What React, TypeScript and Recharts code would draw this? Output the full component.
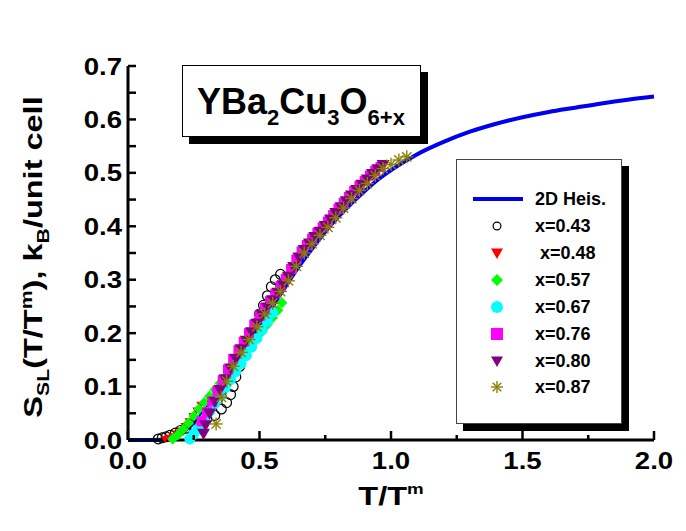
import React from "react";
import { ComposedChart, Line, Scatter, XAxis, YAxis, Legend } from "recharts";

const FONT = '"Liberation Sans", Arial, Helvetica, sans-serif';

// tick positions (labels only on the majors)
const xTicks = [0, 0.25, 0.5, 0.75, 1.0, 1.25, 1.5, 1.75, 2.0];
const yTicks = [0, 0.05, 0.1, 0.15, 0.2, 0.25, 0.3, 0.35, 0.4, 0.45, 0.5, 0.55, 0.6, 0.65, 0.7];

// 2D Heisenberg curve
const heisT = [0, 0.05, 0.1, 0.15, 0.2, 0.25, 0.3, 0.35, 0.4, 0.45, 0.5, 0.55, 0.6, 0.65, 0.7, 0.75, 0.8, 0.85, 0.9, 0.95, 1.0, 1.1, 1.2, 1.3, 1.4, 1.5, 1.6, 1.7, 1.8, 1.9, 2.0];
const heisS = [0, 0, 0, 0.002, 0.012, 0.032, 0.06, 0.093, 0.13, 0.17, 0.21, 0.25, 0.288, 0.325, 0.358, 0.39, 0.418, 0.443, 0.466, 0.487, 0.505, 0.535, 0.558, 0.577, 0.592, 0.604, 0.614, 0.622, 0.63, 0.637, 0.643];

// measured data, [T/Tm, S]
const x043 = [
  [0.115, 0.002], [0.13, 0.004], [0.145, 0.006], [0.16, 0.009], [0.18, 0.013], [0.2, 0.018],
  [0.22, 0.022], [0.245, 0.028], [0.27, 0.034], [0.3, 0.04], [0.33, 0.046], [0.355, 0.058],
  [0.375, 0.07], [0.39, 0.085], [0.4, 0.1], [0.41, 0.118], [0.425, 0.138], [0.44, 0.158],
  [0.455, 0.178], [0.47, 0.198], [0.485, 0.218], [0.5, 0.236], [0.515, 0.252], [0.53, 0.27],
  [0.545, 0.287], [0.56, 0.3], [0.58, 0.31],
];
const x048 = [
  [0.14, 0.002], [0.155, 0.004], [0.17, 0.007], [0.185, 0.012], [0.2, 0.018], [0.215, 0.026],
  [0.23, 0.035], [0.245, 0.045], [0.26, 0.055], [0.275, 0.066],
];
const x057 = [
  [0.17, 0.002], [0.19, 0.01], [0.21, 0.02], [0.23, 0.032], [0.25, 0.045], [0.27, 0.058],
  [0.29, 0.07], [0.31, 0.082], [0.33, 0.094], [0.35, 0.106], [0.37, 0.118], [0.39, 0.13],
  [0.41, 0.142], [0.43, 0.154], [0.45, 0.166], [0.47, 0.178], [0.49, 0.19], [0.51, 0.203],
  [0.53, 0.216], [0.55, 0.229], [0.57, 0.243], [0.585, 0.257],
];
const x067 = [
  [0.235, 0.002], [0.25, 0.011], [0.265, 0.02], [0.28, 0.03], [0.295, 0.041], [0.31, 0.053],
  [0.33, 0.068], [0.35, 0.083], [0.37, 0.098], [0.39, 0.113], [0.41, 0.128], [0.43, 0.143],
  [0.45, 0.158], [0.47, 0.174], [0.49, 0.19], [0.51, 0.206], [0.53, 0.222], [0.55, 0.238],
];
const x076 = [
  [0.28, 0.035], [0.3, 0.052], [0.32, 0.072], [0.34, 0.092], [0.36, 0.112], [0.38, 0.132],
  [0.4, 0.152], [0.42, 0.168], [0.44, 0.184], [0.46, 0.2], [0.48, 0.216], [0.5, 0.232],
  [0.52, 0.247], [0.54, 0.26], [0.56, 0.274], [0.58, 0.288], [0.6, 0.302], [0.62, 0.32],
  [0.64, 0.338], [0.66, 0.353], [0.68, 0.365], [0.7, 0.377], [0.72, 0.388], [0.74, 0.398],
  [0.76, 0.409], [0.78, 0.421], [0.8, 0.433], [0.82, 0.444], [0.84, 0.455], [0.86, 0.466],
  [0.88, 0.476], [0.9, 0.485], [0.92, 0.495], [0.94, 0.504], [0.96, 0.511],
];
const x080 = [
  [0.287, 0.012], [0.295, 0.028], [0.31, 0.05], [0.33, 0.072], [0.35, 0.094], [0.37, 0.114],
  [0.39, 0.134], [0.41, 0.152], [0.43, 0.17], [0.45, 0.186], [0.47, 0.202], [0.49, 0.218],
  [0.51, 0.234], [0.53, 0.248], [0.55, 0.262], [0.57, 0.276], [0.59, 0.29], [0.61, 0.306],
  [0.63, 0.324], [0.65, 0.342], [0.67, 0.356], [0.69, 0.368], [0.71, 0.38], [0.73, 0.39],
  [0.75, 0.401], [0.77, 0.413], [0.79, 0.425], [0.81, 0.436], [0.83, 0.447], [0.85, 0.458],
  [0.87, 0.468], [0.89, 0.478], [0.91, 0.488], [0.93, 0.498], [0.95, 0.507], [0.97, 0.515],
];
const x087 = [
  [0.335, 0.03], [0.355, 0.08], [0.375, 0.11], [0.4, 0.138], [0.43, 0.164], [0.46, 0.188],
  [0.49, 0.212], [0.52, 0.236], [0.55, 0.256], [0.58, 0.278], [0.61, 0.298], [0.64, 0.325],
  [0.67, 0.35], [0.7, 0.367], [0.73, 0.383], [0.76, 0.398], [0.79, 0.416], [0.82, 0.434],
  [0.85, 0.452], [0.88, 0.467], [0.91, 0.48], [0.94, 0.495], [0.97, 0.508], [1.0, 0.516],
  [1.03, 0.524], [1.06, 0.53],
];

const heis = heisT.map((t, i) => ({ t, s: heisS[i] }));
const pts = (arr: number[][]) => arr.map(([t, s]) => ({ t, s }));

const series = [
  { name: "x=0.43", data: x043, kind: "open", color: "#000000", size: 11 },
  { name: " x=0.48", data: x048, kind: "tri", color: "#ff0000", size: 8 },
  { name: "x=0.57", data: x057, kind: "diamond", color: "#00ff00", size: 11 },
  { name: "x=0.67", data: x067, kind: "circle", color: "#00ffff", size: 11 },
  { name: "x=0.76", data: x076, kind: "square", color: "#ff00ff", size: 10 },
  { name: "x=0.80", data: x080, kind: "tri", color: "#800080", size: 13 },
  { name: "x=0.87", data: x087, kind: "star", color: "#8b8000", size: 13 },
];

function Marker({ cx, cy, kind, color, size }: any) {
  const r = size / 2;
  if (kind === "open")
    return <circle cx={cx} cy={cy} r={r - 0.6} fill="none" stroke={color} strokeWidth={1.2} />;
  if (kind === "circle") return <circle cx={cx} cy={cy} r={r} fill={color} />;
  if (kind === "square") return <rect x={cx - r} y={cy - r} width={size} height={size} fill={color} />;
  if (kind === "diamond")
    return <polygon points={`${cx},${cy - r} ${cx + r},${cy} ${cx},${cy + r} ${cx - r},${cy}`} fill={color} />;
  if (kind === "tri")
    return (
      <polygon points={`${cx - r},${cy - r * 0.75} ${cx + r},${cy - r * 0.75} ${cx},${cy + r}`} fill={color} />
    );
  const d = r * 0.72;
  return (
    <g stroke={color} strokeWidth={1.4}>
      <line x1={cx} y1={cy - r} x2={cx} y2={cy + r} />
      <line x1={cx - r} y1={cy} x2={cx + r} y2={cy} />
      <line x1={cx - d} y1={cy - d} x2={cx + d} y2={cy + d} />
      <line x1={cx - d} y1={cy + d} x2={cx + d} y2={cy - d} />
    </g>
  );
}

// the labels in the source are a bit wider than Arial, so stretch them sideways
const XTick = ({ x, y, payload }: any) => {
  const v = payload.value;
  const major = Math.abs(v * 2 - Math.round(v * 2)) < 1e-6;
  return (
    <g>
      <line x1={x} x2={x} y1={y} y2={y - (major ? 9 : 5)} stroke="#000" strokeWidth={2.5} />
      {major && (
        <text
          transform={`translate(${x},${y + 29}) scale(1.15,1)`}
          textAnchor="middle"
          fontFamily={FONT}
          fontWeight="bold"
          fontSize={24}
          fill="#000"
        >
          {v.toFixed(1)}
        </text>
      )}
    </g>
  );
};

const YTick = ({ x, y, payload }: any) => {
  const v = payload.value;
  const major = Math.abs(v * 10 - Math.round(v * 10)) < 1e-6;
  return (
    <g>
      <line x1={x} x2={x + 8} y1={y} y2={y} stroke="#000" strokeWidth={2.5} />
      {major && (
        <text
          transform={`translate(${x - 6},${y + 8.5}) scale(1.15,1)`}
          textAnchor="end"
          fontFamily={FONT}
          fontWeight="bold"
          fontSize={24}
          fill="#000"
        >
          {v.toFixed(1)}
        </text>
      )}
    </g>
  );
};

const XTitle = ({ viewBox }: any) => {
  const cx = viewBox.x + viewBox.width / 2;
  return (
    <text
      transform={`translate(${cx},505) scale(1.25,1)`}
      textAnchor="middle"
      fontFamily={FONT}
      fontWeight="bold"
      fontSize={26}
      fill="#000"
    >
      T/T
      <tspan dy={-11} fontSize={15}>m</tspan>
    </text>
  );
};

const YTitle = ({ viewBox }: any) => {
  const cx = 42;
  const cy = viewBox.y + viewBox.height / 2 + 4;
  return (
    <text
      transform={`translate(${cx},${cy}) rotate(-90) scale(1.25,1)`}
      textAnchor="middle"
      fontFamily={FONT}
      fontWeight="bold"
      fontSize={26}
      fill="#000"
    >
      S<tspan dy={7} fontSize={17}>SL</tspan>
      <tspan dy={-7}>(T/T</tspan>
      <tspan dy={-10} fontSize={17}>m</tspan>
      <tspan dy={10}>), k</tspan>
      <tspan dy={7} fontSize={17}>B</tspan>
      <tspan dy={-7}>/unit cell</tspan>
    </text>
  );
};

const LegendBox = () => (
  <div
    style={{
      position: "relative",
      width: 166,
      height: 265,
      background: "#fff",
      border: "1px solid #444",
      boxSizing: "border-box",
      boxShadow: "7px 7px 0 #000",
      fontFamily: FONT,
      fontWeight: "bold",
      fontSize: 18,
    }}
  >
    <div style={{ position: "absolute", left: 0, top: 29, height: 20, width: 166 }}>
      <svg width={60} height={20} style={{ position: "absolute", left: 10, top: 0 }}>
        <line x1={6} x2={56} y1={10} y2={10} stroke="#0000ee" strokeWidth={4} />
      </svg>
      <span style={{ position: "absolute", left: 78, top: 0, lineHeight: "20px" }}>2D Heis.</span>
    </div>
    {series.map((s, i) => (
      <div key={s.name} style={{ position: "absolute", left: 0, top: 56 + i * 26.9, height: 20, width: 166 }}>
        <svg width={24} height={20} style={{ position: "absolute", left: 28, top: 0 }}>
          <Marker cx={12} cy={10} kind={s.kind} color={s.color} size={s.kind === "open" ? 9 : 12} />
        </svg>
        <span style={{ position: "absolute", left: 78, top: 0, lineHeight: "20px", whiteSpace: "pre" }}>{s.name}</span>
      </div>
    ))}
  </div>
);

const sub = { fontSize: 22, position: "relative" as const, top: 11 };

export default function App() {
  return (
    <div style={{ position: "absolute", left: 0, top: 0, width: 686, height: 531, background: "#fff" }}>
      <ComposedChart width={686} height={531} margin={{ top: 66, right: 32, left: 0, bottom: 0 }}>
        <XAxis
          dataKey="t"
          type="number"
          domain={[0, 2]}
          ticks={xTicks}
          tick={<XTick />}
          tickSize={0}
          tickMargin={0}
          tickLine={false}
          axisLine={{ stroke: "#000", strokeWidth: 3 }}
          height={91}
          interval={0}
          label={<XTitle />}
        />
        <YAxis
          dataKey="s"
          type="number"
          domain={[0, 0.7]}
          ticks={yTicks}
          tick={<YTick />}
          tickSize={0}
          tickMargin={0}
          tickLine={false}
          axisLine={{ stroke: "#000", strokeWidth: 3 }}
          width={128}
          interval={0}
          label={<YTitle />}
        />
        <Legend layout="vertical" align="center" verticalAlign="middle" content={<LegendBox />}
          wrapperStyle={{ left: 456, top: 159, width: 166, height: 265 }} />
        <Line
          data={heis}
          dataKey="s"
          name="2D Heis."
          type="monotone"
          stroke="#0000ee"
          strokeWidth={4}
          dot={false}
          activeDot={false}
          isAnimationActive={false}
        />
        {series.map((s) => (
          <Scatter
            key={s.name}
            name={s.name}
            data={pts(s.data)}
            dataKey="s"
            isAnimationActive={false}
            shape={(p: any) => <Marker cx={p.cx} cy={p.cy} kind={s.kind} color={s.color} size={s.size} />}
          />
        ))}
      </ComposedChart>
      <div
        style={{
          position: "absolute",
          left: 182,
          top: 65,
          width: 239,
          height: 72,
          boxSizing: "border-box",
          border: "1.5px solid #000",
          background: "#fff",
          boxShadow: "7px 7px 0 #000",
          fontFamily: FONT,
          fontWeight: "bold",
          fontSize: 36,
          lineHeight: "36px",
          paddingLeft: 14,
          paddingTop: 18,
          whiteSpace: "nowrap",
        }}
      >
        YBa<span style={sub}>2</span>Cu<span style={sub}>3</span>O<span style={sub}>6+x</span>
      </div>
    </div>
  );
}
